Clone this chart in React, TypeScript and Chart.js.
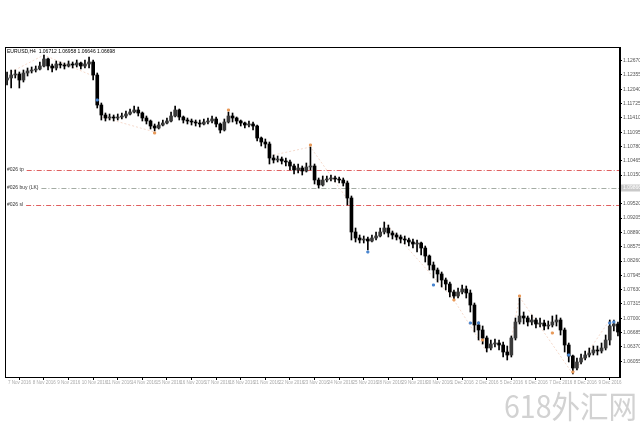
import React, { useEffect, useRef } from 'react';
import { Chart, registerables } from 'chart.js';
Chart.register(...registerables);

// ---- data (EURUSD, H4) ----
const opens = [
  1.12242, 1.12286, 1.12352, 1.12374, 1.12242, 1.12396, 1.12440, 1.12462, 1.12484, 1.12550,
  1.12704, 1.12550, 1.12506, 1.12594, 1.12572, 1.12550, 1.12594, 1.12572, 1.12616, 1.12550,
  1.12594, 1.12638, 1.12352, 1.11692, 1.11472, 1.11406, 1.11428, 1.11406, 1.11428, 1.11450,
  1.11494, 1.11538, 1.11582, 1.11516, 1.11406, 1.11340, 1.11230, 1.11186, 1.11252, 1.11296,
  1.11340, 1.11450, 1.11582, 1.11428, 1.11362, 1.11340, 1.11318, 1.11296, 1.11274, 1.11318,
  1.11340, 1.11384, 1.11274, 1.11142, 1.11318, 1.11450, 1.11406, 1.11340, 1.11296, 1.11252,
  1.11274, 1.11230, 1.10966, 1.10878, 1.10834, 1.10526, 1.10482, 1.10504, 1.10460, 1.10438,
  1.10350, 1.10262, 1.10306, 1.10240, 1.10328, 1.10350, 1.10042, 1.09932, 1.10042, 1.10064,
  1.10086, 1.10064, 1.10042, 1.09976, 1.09646, 1.08898, 1.08766, 1.08722, 1.08744, 1.08700,
  1.08766, 1.08810, 1.08898, 1.08986, 1.08876, 1.08832, 1.08788, 1.08744, 1.08722, 1.08678,
  1.08634, 1.08656, 1.08546, 1.08370, 1.08172, 1.08062, 1.07974, 1.07842, 1.07754, 1.07578,
  1.07490, 1.07578, 1.07644, 1.07556, 1.07292, 1.06852, 1.06742, 1.06566, 1.06346, 1.06434,
  1.06456, 1.06412, 1.06258, 1.06192, 1.06566, 1.06918, 1.07050, 1.07006, 1.06918, 1.06962,
  1.06874, 1.06896, 1.06830, 1.06852, 1.06918, 1.06962, 1.06742, 1.06412, 1.06170, 1.05906,
  1.06038, 1.06126, 1.06192, 1.06236, 1.06302, 1.06280, 1.06346, 1.06522, 1.06830, 1.06874,
];
const highs = [
  1.12418, 1.12462, 1.12462, 1.12418, 1.12462, 1.12506, 1.12528, 1.12550, 1.12638, 1.12792,
  1.12726, 1.12594, 1.12660, 1.12638, 1.12616, 1.12660, 1.12638, 1.12682, 1.12638, 1.12682,
  1.12748, 1.12682, 1.12396, 1.11736, 1.11516, 1.11494, 1.11472, 1.11494, 1.11516, 1.11560,
  1.11604, 1.11670, 1.11648, 1.11538, 1.11450, 1.11362, 1.11274, 1.11318, 1.11362, 1.11406,
  1.11538, 1.11670, 1.11604, 1.11450, 1.11406, 1.11384, 1.11362, 1.11362, 1.11384, 1.11406,
  1.11450, 1.11428, 1.11296, 1.11384, 1.11538, 1.11516, 1.11428, 1.11362, 1.11318, 1.11340,
  1.11318, 1.11252, 1.10988, 1.10944, 1.10878, 1.10592, 1.10570, 1.10548, 1.10526, 1.10482,
  1.10394, 1.10394, 1.10350, 1.10416, 1.10768, 1.10394, 1.10086, 1.10130, 1.10130, 1.10152,
  1.10130, 1.10108, 1.10086, 1.10020, 1.09690, 1.08986, 1.08832, 1.08810, 1.08788, 1.08832,
  1.08898, 1.08986, 1.09118, 1.09052, 1.08920, 1.08876, 1.08832, 1.08810, 1.08766, 1.08744,
  1.08722, 1.08678, 1.08590, 1.08392, 1.08238, 1.08106, 1.08018, 1.07886, 1.07798, 1.07622,
  1.07666, 1.07732, 1.07710, 1.07622, 1.07336, 1.06918, 1.06830, 1.06610, 1.06522, 1.06544,
  1.06522, 1.06478, 1.06390, 1.06610, 1.07006, 1.07446, 1.07138, 1.07050, 1.07072, 1.07006,
  1.07006, 1.06962, 1.06940, 1.07050, 1.07072, 1.07006, 1.06786, 1.06456, 1.06192, 1.06126,
  1.06214, 1.06280, 1.06346, 1.06390, 1.06390, 1.06456, 1.06632, 1.06962, 1.06962, 1.06918,
];
const lows = [
  1.12132, 1.12066, 1.12286, 1.12066, 1.12198, 1.12330, 1.12396, 1.12418, 1.12462, 1.12528,
  1.12462, 1.12418, 1.12462, 1.12506, 1.12484, 1.12528, 1.12506, 1.12528, 1.12484, 1.12506,
  1.12506, 1.12242, 1.11626, 1.11362, 1.11340, 1.11362, 1.11340, 1.11362, 1.11384, 1.11406,
  1.11472, 1.11516, 1.11450, 1.11340, 1.11274, 1.11164, 1.11120, 1.11164, 1.11230, 1.11274,
  1.11318, 1.11428, 1.11362, 1.11296, 1.11274, 1.11252, 1.11230, 1.11208, 1.11252, 1.11274,
  1.11296, 1.11208, 1.11076, 1.11120, 1.11296, 1.11318, 1.11274, 1.11230, 1.11186, 1.11208,
  1.11142, 1.10900, 1.10790, 1.10746, 1.10394, 1.10416, 1.10438, 1.10394, 1.10350, 1.10262,
  1.10174, 1.10196, 1.10152, 1.10218, 1.10262, 1.09954, 1.09866, 1.09910, 1.09998, 1.10020,
  1.09998, 1.09976, 1.09910, 1.09492, 1.08722, 1.08678, 1.08656, 1.08656, 1.08502, 1.08678,
  1.08722, 1.08788, 1.08854, 1.08788, 1.08744, 1.08722, 1.08656, 1.08634, 1.08590, 1.08546,
  1.08458, 1.08392, 1.08238, 1.08062, 1.07886, 1.07798, 1.07688, 1.07622, 1.07468, 1.07402,
  1.07446, 1.07534, 1.07446, 1.07138, 1.06698, 1.06522, 1.06434, 1.06258, 1.06302, 1.06368,
  1.06302, 1.06148, 1.06082, 1.06148, 1.06522, 1.06874, 1.06874, 1.06830, 1.06852, 1.06786,
  1.06808, 1.06742, 1.06764, 1.06808, 1.06830, 1.06632, 1.06258, 1.06038, 1.05774, 1.05862,
  1.05994, 1.06082, 1.06148, 1.06192, 1.06192, 1.06236, 1.06302, 1.06412, 1.06720, 1.06610,
];
const closes = [
  1.12286, 1.12352, 1.12374, 1.12242, 1.12396, 1.12440, 1.12462, 1.12484, 1.12550, 1.12704,
  1.12550, 1.12506, 1.12594, 1.12572, 1.12550, 1.12594, 1.12572, 1.12616, 1.12550, 1.12594,
  1.12638, 1.12352, 1.11692, 1.11472, 1.11406, 1.11428, 1.11406, 1.11428, 1.11450, 1.11494,
  1.11538, 1.11582, 1.11516, 1.11406, 1.11340, 1.11230, 1.11186, 1.11252, 1.11296, 1.11340,
  1.11450, 1.11582, 1.11428, 1.11362, 1.11340, 1.11318, 1.11296, 1.11274, 1.11318, 1.11340,
  1.11384, 1.11274, 1.11142, 1.11318, 1.11450, 1.11406, 1.11340, 1.11296, 1.11252, 1.11274,
  1.11230, 1.10966, 1.10878, 1.10834, 1.10526, 1.10482, 1.10504, 1.10460, 1.10438, 1.10350,
  1.10262, 1.10306, 1.10240, 1.10328, 1.10350, 1.10042, 1.09932, 1.10042, 1.10064, 1.10086,
  1.10064, 1.10042, 1.09976, 1.09646, 1.08898, 1.08766, 1.08722, 1.08744, 1.08700, 1.08766,
  1.08810, 1.08898, 1.08986, 1.08876, 1.08832, 1.08788, 1.08744, 1.08722, 1.08678, 1.08634,
  1.08656, 1.08546, 1.08370, 1.08172, 1.08062, 1.07974, 1.07842, 1.07754, 1.07578, 1.07490,
  1.07578, 1.07644, 1.07556, 1.07292, 1.06852, 1.06742, 1.06566, 1.06346, 1.06434, 1.06456,
  1.06412, 1.06258, 1.06192, 1.06566, 1.06918, 1.07050, 1.07006, 1.06918, 1.06962, 1.06874,
  1.06896, 1.06830, 1.06852, 1.06918, 1.06962, 1.06742, 1.06412, 1.06170, 1.05906, 1.06038,
  1.06126, 1.06192, 1.06236, 1.06302, 1.06280, 1.06346, 1.06522, 1.06830, 1.06874, 1.06698,
];

const xTickBars = [0, 6, 12, 18, 24, 30, 36, 42, 48, 54, 60, 66, 72, 78, 84, 90, 96, 102, 108, 114, 120, 126, 132, 138, 144];
const xTickLabels = [
  '7 Nov 2016', '8 Nov 2016', '9 Nov 2016', '10 Nov 2016', '11 Nov 2016', '14 Nov 2016', '15 Nov 2016',
  '16 Nov 2016', '17 Nov 2016', '18 Nov 2016', '21 Nov 2016', '22 Nov 2016', '23 Nov 2016', '24 Nov 2016',
  '25 Nov 2016', '28 Nov 2016', '29 Nov 2016', '30 Nov 2016', '1 Dec 2016', '2 Dec 2016', '5 Dec 2016',
  '6 Dec 2016', '7 Dec 2016', '8 Dec 2016', '9 Dec 2016',
];
const yTickValues = [
  1.12670, 1.12355, 1.12040, 1.11725, 1.11410, 1.11095, 1.10780, 1.10465, 1.10150, 1.09835, 1.09520,
  1.09205, 1.08890, 1.08575, 1.08260, 1.07945, 1.07630, 1.07315, 1.07000, 1.06685, 1.06370, 1.06055,
];
const Y_MIN = 1.05708;
const Y_MAX = 1.12968;

const orderPrices = [1.10262, 1.09866, 1.09492];
const orderLabels = ['#026 tp', '#026 buy (LK)', '#026 sl'];
const orderColors = ['#e06060', '#a4aca4', '#e06060'];

const zigzagBars = [1, 9, 21, null, 23, 36, null, 65, 74, 84, null, 92, 109, 117, null, 122, 125, 138, 147];
const zigzagPrices = [1.12418, 1.12792, 1.12330, null, 1.11428, 1.11098, null, 1.10592, 1.10768, 1.09492, null,
  1.09118, 1.07402, 1.06258, null, 1.06082, 1.07468, 1.05774, 1.06962];

const blueBars = [22, 88, 104, 113, 115, 137, 147, 148];
const bluePrices = [1.11802, 1.08458, 1.07732, 1.06896, 1.06896, 1.06192, 1.06896, 1.06918];
const orangeBars = [36, 54, 74, 109, 116, 125, 133, 138];
const orangePrices = [1.11076, 1.11582, 1.10812, 1.07402, 1.06522, 1.07490, 1.06676, 1.05818];

const titleText = 'EURUSD,H4  1.06712 1.06958 1.06646 1.06698';
const FONT = '"Liberation Sans", Arial, sans-serif';

export default function App() {
  const ref = useRef<HTMLCanvasElement | null>(null);

  useEffect(() => {
    if (!ref.current) return;
    const wickData = lows.map((l, i) => ({ x: i, y: [l, highs[i]] }));
    const bodyData = opens.map((o, i) => ({ x: i, y: [o, closes[i]] }));
    const bodyFill = opens.map((o, i) => (closes[i] > o ? '#3a3a3a' : '#000000'));
    const zz = zigzagBars.map((b, i) => ({ x: b === null ? NaN : b, y: zigzagPrices[i] }));
    const blue = blueBars.map((b, i) => ({ x: b, y: bluePrices[i] }));
    const orange = orangeBars.map((b, i) => ({ x: b, y: orangePrices[i] }));

    const overlay = {
      id: 'mt4overlay',
      beforeDatasetsDraw(chart: any) {
        const { ctx, chartArea: ca, scales } = chart;
        const ys = scales.y;
        orderPrices.forEach((p, i) => {
          ctx.save();
          ctx.globalAlpha = 1;
          ctx.font = `5px ${FONT}`;
          ctx.textBaseline = 'middle';
          const y = Math.round(ys.getPixelForValue(p)) + 0.5;
          ctx.fillStyle = '#333';
          ctx.fillText(orderLabels[i], ca.left + 2, y - 1);
          const w = ctx.measureText(orderLabels[i]).width;
          ctx.strokeStyle = orderColors[i];
          ctx.lineWidth = 1;
          ctx.setLineDash([5, 2, 1, 2]);
          ctx.beginPath();
          ctx.moveTo(ca.left + w + 5, y);
          ctx.lineTo(ca.right, y);
          ctx.stroke();
          ctx.restore();
        });
      },
      afterDatasetsDraw(chart: any) {
        const { ctx, chartArea: ca, scales } = chart;
        ctx.save();
        ctx.strokeStyle = '#000';
        ctx.lineWidth = 1;
        ctx.setLineDash([]);
        ctx.strokeRect(ca.left + 0.5, ca.top + 0.5, ca.right - ca.left - 1, ca.bottom - ca.top);
        ctx.fillStyle = '#000';
        ctx.font = `5px ${FONT}`;
        ctx.textBaseline = 'top';
        ctx.fillText(titleText, ca.left + 2, ca.top + 2);
        ctx.fillStyle = '#aaa';
        ctx.font = `4.5px ${FONT}`;
        xTickBars.forEach((b, i) => {
          const x = scales.x.getPixelForValue(b);
          ctx.fillText(xTickLabels[i], x + 1, ca.bottom + 4);
        });
        const yb = scales.y.getPixelForValue(orderPrices[1]);
        ctx.fillStyle = '#c9c9c9';
        ctx.fillRect(ca.right + 1, yb - 3.5, 19, 7);
        ctx.fillStyle = '#ffffff';
        ctx.textBaseline = 'middle';
        ctx.font = `5px ${FONT}`;
        ctx.fillText(orderPrices[1].toFixed(5), ca.right + 3, yb);
        ctx.restore();
      },
    };

    const chart = new Chart(ref.current, {
      type: 'bar',
      data: {
        datasets: [
          {
            type: 'line',
            data: zz as any,
            borderColor: 'rgba(225,150,110,0.5)',
            borderWidth: 0.7,
            borderDash: [2, 2],
            pointRadius: 0,
            spanGaps: false,
            order: 3,
          } as any,
          {
            type: 'bar',
            data: wickData as any,
            backgroundColor: '#000',
            barThickness: 1,
            grouped: false,
            order: 2,
          } as any,
          {
            type: 'bar',
            data: bodyData as any,
            backgroundColor: bodyFill,
            borderColor: '#000',
            borderWidth: 0,
            borderSkipped: false,
            barThickness: 3,
            minBarLength: 1,
            grouped: false,
            order: 1,
          } as any,
          {
            type: 'scatter',
            data: blue as any,
            backgroundColor: '#4a86d0',
            borderColor: '#4a86d0',
            pointStyle: 'rect',
            pointRadius: 1.4,
            order: 0,
          } as any,
          {
            type: 'scatter',
            data: orange as any,
            backgroundColor: '#e89a5a',
            borderColor: '#e89a5a',
            pointStyle: 'rect',
            pointRadius: 1.4,
            order: 0,
          } as any,
        ],
      },
      options: {
        responsive: false,
        animation: false,
        events: [],
        devicePixelRatio: 1,
        layout: { padding: { left: 2, top: 47, right: 0, bottom: 37 } },
        plugins: { legend: { display: false }, tooltip: { enabled: false } },
        scales: {
          x: {
            type: 'linear',
            min: -0.5,
            max: 149.5,
            offset: false,
            afterBuildTicks: (s: any) => {
              s.ticks = xTickBars.map((v) => ({ value: v }));
            },
            afterFit: (s: any) => {
              s.height = 12;
            },
            ticks: { display: false },
            grid: { drawOnChartArea: false, tickLength: 3, color: '#000', lineWidth: 1 },
            border: { color: '#000' },
          },
          y: {
            position: 'right',
            min: Y_MIN,
            max: Y_MAX,
            afterBuildTicks: (s: any) => {
              s.ticks = yTickValues.map((v) => ({ value: v }));
            },
            afterFit: (s: any) => {
              s.width = 20;
            },
            ticks: {
              autoSkip: false,
              padding: 1,
              color: '#555',
              font: { size: 5, family: FONT },
              callback: (v: any) => Number(v).toFixed(5),
            },
            grid: { drawOnChartArea: false, tickLength: 2, color: '#000' },
            border: { color: '#000' },
          },
        },
      } as any,
      plugins: [overlay],
    });
    return () => chart.destroy();
  }, []);

  return (
    <div style={{ position: 'fixed', left: 0, top: 0, width: 640, height: 426, background: '#fff', overflow: 'hidden' }}>
      <canvas ref={ref} width={640} height={426} style={{ display: 'block' }} />
      <div
        style={{
          position: 'absolute',
          left: 504,
          top: 388,
          fontFamily: '"Noto Sans CJK SC", sans-serif',
          fontSize: 31,
          lineHeight: '34px',
          color: '#d2d2d2',
          transform: 'scaleX(0.92)',
          transformOrigin: 'left top',
          whiteSpace: 'nowrap',
        }}
      >
        618外汇网
      </div>
    </div>
  );
}
